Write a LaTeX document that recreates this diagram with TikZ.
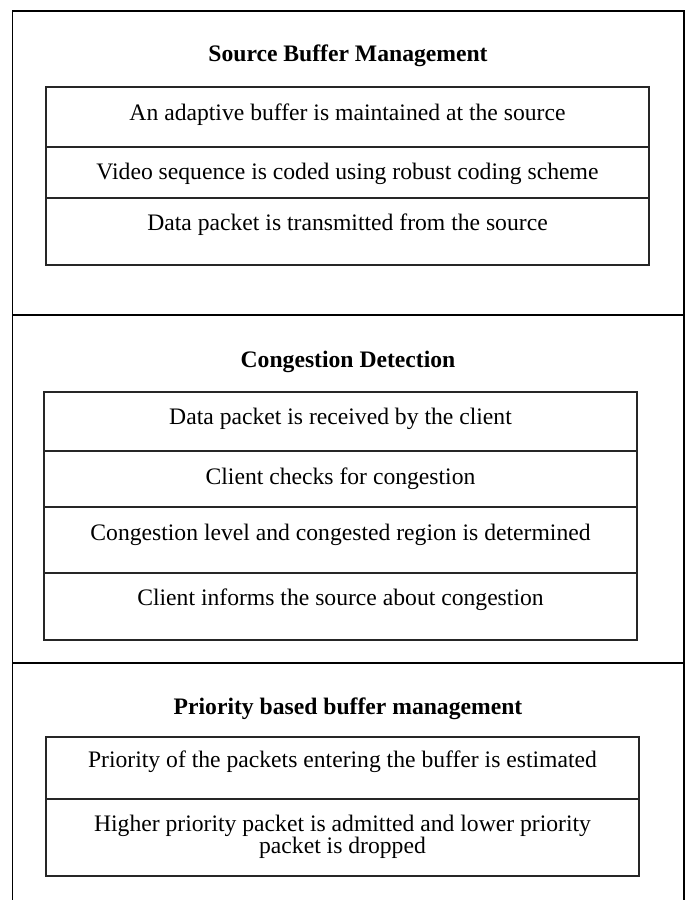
\documentclass[tikz,border=0pt]{standalone}
\usepackage{fontspec}
\setmainfont{Liberation Serif}
\usetikzlibrary{positioning}

\begin{document}
\begin{tikzpicture}[x=0.55pt,y=-0.55pt,
  outer/.style={draw, line width=1pt},
  inner/.style={draw, line width=0.65pt, color=black!85},
  title/.style={font=\fontsize{13}{13}\selectfont\bfseries},
  cell/.style={font=\fontsize{13}{12.3}\selectfont, align=center}]
\useasboundingbox (0,0) rectangle (686,900);
% outer frame and section dividers
\path [outer] (12.5,900) -- (12.5,11) -- (684,11) -- (684,900);
\path [outer] (12.5,315) -- (684,315);
\path [outer] (12.5,663) -- (684,663);
% section 1
\node[title] (T1) at (348,56) {Source Buffer Management};
\path [inner] (46,87) rectangle (649,265);
\path [inner] (46,147) -- (649,147);
\path [inner] (46,198) -- (649,198);
\node[cell] (S1) at (347.5,115) {An adaptive buffer is maintained at the source};
\node[cell] (S2) at (347.5,174) {Video sequence is coded using robust coding scheme};
\node[cell] (S3) at (347.5,225) {Data packet is transmitted from the source};
% section 2
\node[title] (T2) at (348,362) {Congestion Detection};
\path [inner] (44,392) rectangle (637,640);
\path [inner] (44,451) -- (637,451);
\path [inner] (44,507) -- (637,507);
\path [inner] (44,573) -- (637,573);
\node[cell] (C1) at (340.5,419) {Data packet is received by the client};
\node[cell] (C2) at (340.5,479) {Client checks for congestion};
\node[cell] (C3) at (340.5,535) {Congestion level and congested region is determined};
\node[cell] (C4) at (340.5,600) {Client informs the source about congestion};
% section 3
\node[title] (T3) at (348,709) {Priority based buffer management};
\path [inner] (46,737) rectangle (639,876);
\path [inner] (46,799) -- (639,799);
\node[cell] (P1) at (342.5,762) {Priority of the packets entering the buffer is estimated};
\node[cell] (P2) at (342.5,837) {Higher priority packet is admitted and lower priority\\ packet is dropped};
\end{tikzpicture}
\end{document}
